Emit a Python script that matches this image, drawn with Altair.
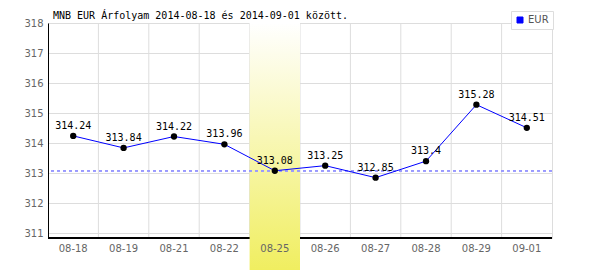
import altair as alt
import pandas as pd

dates = ["08-18", "08-19", "08-21", "08-22", "08-25", "08-26", "08-27", "08-28", "08-29", "09-01"]
values = [314.24, 313.84, 314.22, 313.96, 313.08, 313.25, 312.85, 313.4, 315.28, 314.51]
highlight_date = "08-25"
y_ticks = [311, 312, 313, 314, 315, 316, 317, 318]
y_domain = [310.84, 318.0]
series_name = "EUR"
title_text = "MNB EUR Árfolyam 2014-08-18 és 2014-09-01 között."

df = pd.DataFrame({
    "date": dates,
    "value": values,
    "label": [str(v) for v in values],
    "series": [series_name] * len(dates),
})
ref_value = values[dates.index(highlight_date)]

W, H = 504, 215
MONO = "DejaVu Sans Mono"
SANS = "DejaVu Sans"

xscale = alt.Scale(domain=dates, paddingInner=0, paddingOuter=0)
yscale = alt.Scale(domain=y_domain, nice=False, zero=False)

base = alt.Chart(df)

x_axis = alt.Axis(zindex=1, domain=False, ticks=False, grid=False, labelAngle=0,
                  labelColor="#666", labelFont=SANS, labelFontSize=10, labelPadding=5)
y_axis = alt.Axis(values=y_ticks, domain=True, domainColor="black", domainWidth=1,
                  ticks=False, grid=True, gridColor="#ddd", labelColor="#666",
                  labelFont=SANS, labelFontSize=10, labelPadding=5, labelOverlap=False,
                  tickCount=len(y_ticks))

x_enc = alt.X("date:N", scale=xscale, sort=dates, title=None, axis=x_axis)
y_enc = alt.Y("value:Q", scale=yscale, title=None, axis=y_axis)

vgrid = base.transform_filter(alt.datum.date != dates[0]).mark_rule(
    color="#ddd", strokeWidth=1
).encode(
    x=alt.X("date:N", scale=xscale, sort=dates, bandPosition=0, title=None, axis=x_axis)
)

xline = base.mark_rule(color="black", strokeWidth=1).encode(y=alt.value(H))

grad = alt.Gradient(
    gradient="linear",
    stops=[alt.GradientStop(color="#ffffff", offset=0),
           alt.GradientStop(color="#f0ee60", offset=1)],
    x1=0, x2=0, y1=0, y2=1,
)
highlight = base.transform_filter(
    alt.datum.date == highlight_date
).mark_rect(color=grad).encode(
    x=x_enc,
    y=alt.value(0),
    y2=alt.value(H + 32),
)

ref_rule = base.mark_rule(color="#9999ff", strokeDash=[3, 3], strokeWidth=1).encode(
    y=alt.YDatum(ref_value, type="quantitative", scale=yscale, title=None, axis=y_axis)
)

line = base.mark_line(strokeWidth=1).encode(
    x=x_enc, y=y_enc,
    color=alt.Color(
        "series:N", scale=alt.Scale(range=["#0000ff"]), title=None,
        legend=alt.Legend(orient="none", legendX=463, legendY=-12, symbolType="square",
                          symbolSize=36, symbolFillColor="#0000ff", symbolStrokeColor="#000066",
                          symbolStrokeWidth=1, labelFont=SANS, labelFontSize=10,
                          labelColor="#555", strokeColor="#ddd", fillColor="white",
                          padding=4, labelOffset=3),
    ),
)

points = base.mark_circle(size=40, color="black", opacity=1).encode(x=x_enc, y=y_enc)

labels = base.mark_text(font=MONO, fontSize=10, color="black", dy=-7,
                        baseline="alphabetic").encode(x=x_enc, y=y_enc, text="label:N")

title = alt.Chart(pd.DataFrame({"t": [title_text]})).mark_text(
    font=MONO, fontSize=10, color="black", align="left", baseline="alphabetic"
).encode(x=alt.value(5), y=alt.value(-4), text="t:N")

chart = alt.layer(vgrid, xline, highlight, ref_rule, line, points, labels, title).properties(
    width=W, height=H,
    autosize=alt.AutoSizeParams(type="none"),
    padding={"left": 48, "top": 23, "right": 48, "bottom": 32},
).configure_view(stroke="#ddd", strokeWidth=1)

chart.save("out.html", embed_options={"renderer": "svg", "actions": False})
